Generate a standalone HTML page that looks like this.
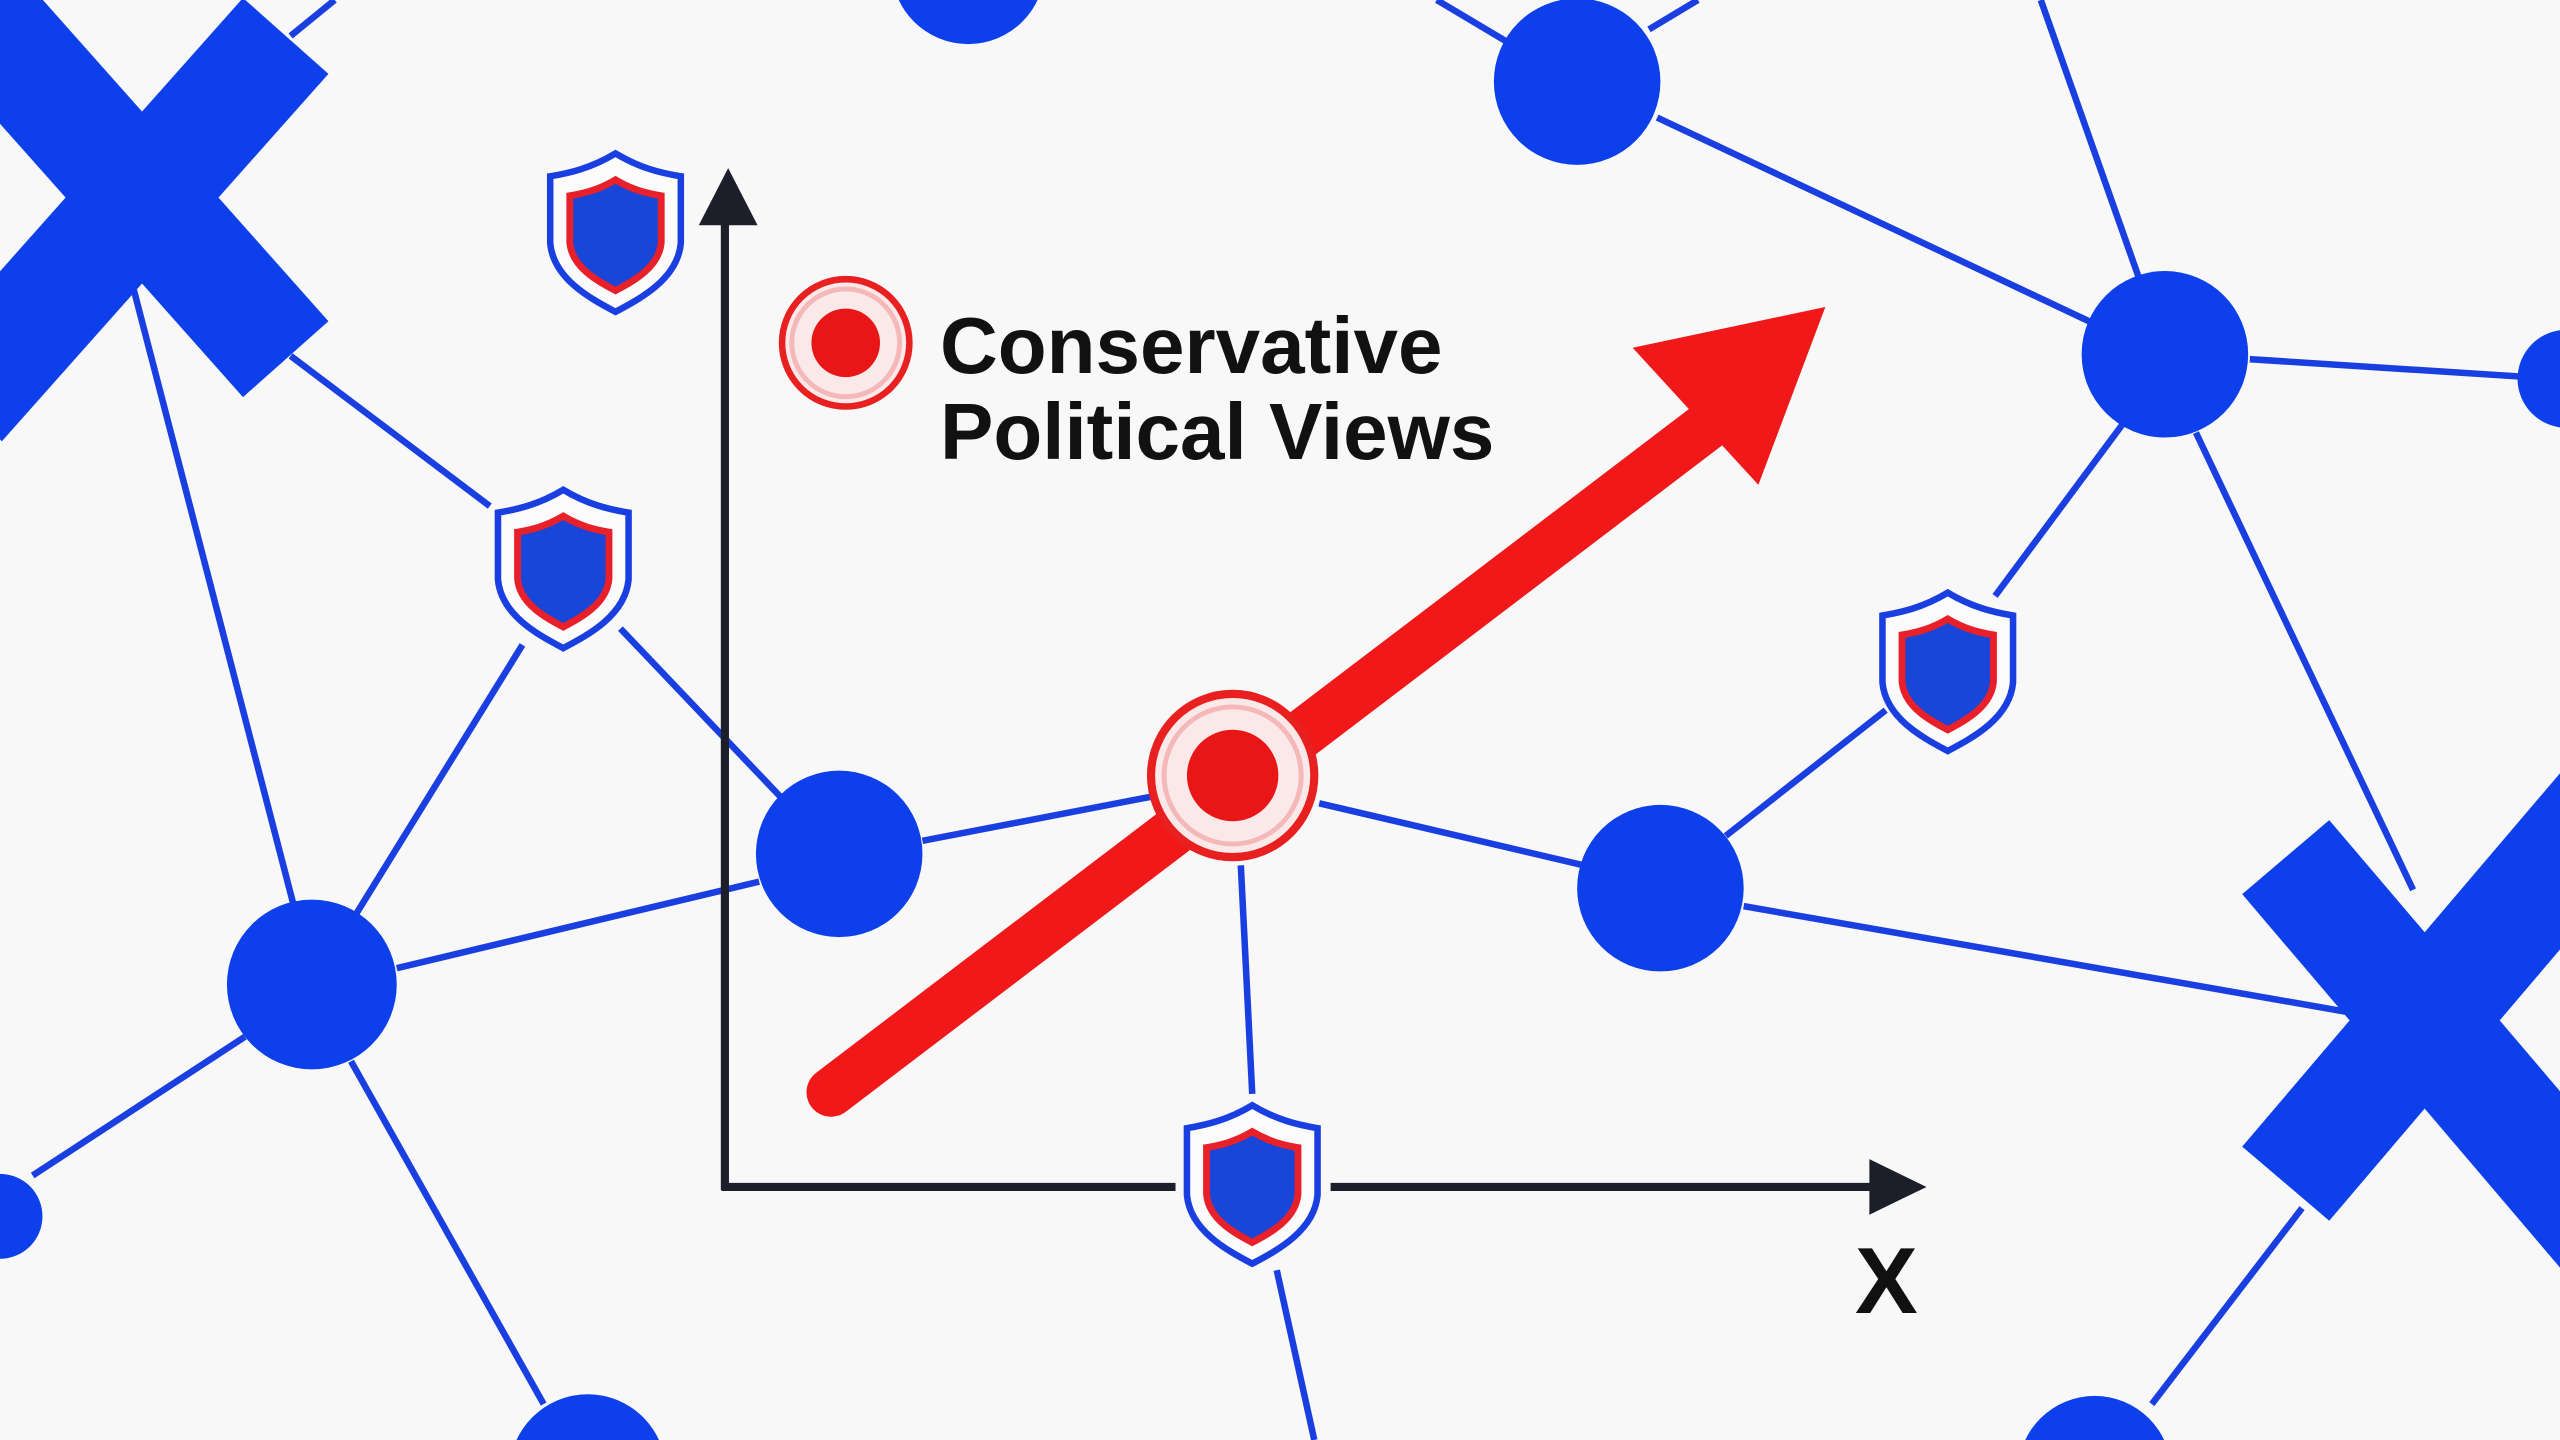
<!DOCTYPE html>
<html><head><meta charset="utf-8"><style>
html,body{margin:0;padding:0;background:#f8f8f8;width:2560px;height:1440px;overflow:hidden;position:relative;}
svg{display:block;position:absolute;left:0;top:0;}
.t{position:absolute;left:940px;font-family:"Liberation Sans",sans-serif;font-weight:bold;font-size:80px;line-height:80px;color:#111;white-space:nowrap;}
</style></head><body>
<svg width="2560" height="1440" viewBox="0 0 1568 882" xmlns="http://www.w3.org/2000/svg" overflow="hidden">
<defs>
<path id="sh" d="M0,-47 C15,-38 28,-35 40,-33 L40,8 C38,30 15,42 0,50 C-15,42 -38,30 -40,8 L-40,-33 C-28,-35 -15,-38 0,-47 Z"/>
<g id="shield">
<use href="#sh" fill="#fbfbfb" stroke="#1a3fe0" stroke-width="4"/>
<g transform="translate(0,2) scale(0.7)"><use href="#sh" fill="#1746d8" stroke="#e8202a" stroke-width="6"/></g>
</g>
</defs>
<rect width="1568" height="882" fill="#f8f8f8"/>
<g stroke="#1a3fe0" stroke-width="4" fill="none">
<line x1="178" y1="22" x2="205" y2="0"/>
<line x1="80" y1="170" x2="180" y2="555"/>
<line x1="178" y1="218" x2="300" y2="310"/>
<line x1="380" y1="385" x2="478" y2="488"/>
<line x1="320" y1="395" x2="218" y2="560"/>
<line x1="243" y1="593" x2="465" y2="540"/>
<line x1="565" y1="515" x2="705" y2="488"/>
<line x1="808" y1="492" x2="970" y2="530"/>
<line x1="760" y1="530" x2="767" y2="670"/>
<line x1="1068" y1="555" x2="1450" y2="622"/>
<line x1="1057" y1="512" x2="1155" y2="435"/>
<line x1="1222" y1="365" x2="1300" y2="260"/>
<line x1="1345" y1="265" x2="1478" y2="545"/>
<line x1="1378" y1="220" x2="1565" y2="232"/>
<line x1="1015" y1="72" x2="1280" y2="197"/>
<line x1="1250" y1="0" x2="1310" y2="170"/>
<line x1="880" y1="0" x2="922" y2="25"/>
<line x1="1010" y1="18" x2="1040" y2="0"/>
<line x1="150" y1="635" x2="20" y2="720"/>
<line x1="215" y1="650" x2="333" y2="860"/>
<line x1="782" y1="778" x2="805" y2="882"/>
<line x1="1410" y1="740" x2="1318" y2="860"/>
</g>
<g fill="#0d40ea">
<circle cx="593" cy="-20" r="47"/>
<circle cx="966" cy="50" r="51"/>
<circle cx="1326" cy="217" r="51"/>
<circle cx="1572" cy="232" r="30"/>
<circle cx="514" cy="523" r="51"/>
<circle cx="1017" cy="544" r="51"/>
<circle cx="191" cy="603" r="52"/>
<circle cx="0" cy="745" r="26"/>
<circle cx="360" cy="902" r="48"/>
<circle cx="1283" cy="902" r="47"/>
</g>
<g stroke="#0d40ea" stroke-width="70" stroke-linecap="butt">
<line x1="-25" y1="-5" x2="175" y2="220"/>
<line x1="175" y1="22" x2="-25" y2="247"/>
<line x1="1400" y1="525" x2="1600" y2="760"/>
<line x1="1400" y1="725" x2="1600" y2="490"/>
</g>
<use href="#shield" x="377" y="141"/>
<use href="#shield" x="345" y="347"/>
<use href="#shield" x="1193" y="410"/>
<use href="#shield" x="767" y="724"/>
<g stroke="#1c1f2a" stroke-width="5" fill="none">
<line x1="444" y1="132" x2="444" y2="729"/>
<line x1="442" y1="727" x2="720" y2="727"/>
<line x1="815" y1="727" x2="1150" y2="727"/>
</g>
<polygon points="446,103 428,138 464,138" fill="#1c1f2a"/>
<polygon points="1180,727 1145,710 1145,744" fill="#1c1f2a"/>
<line x1="509" y1="669" x2="1060" y2="250" stroke="#f01818" stroke-width="30" stroke-linecap="round"/>
<polygon points="1118,188 1000,213 1077,297" fill="#f01818"/>
<circle cx="518" cy="210" r="39" fill="#fbe8e8" stroke="#e82020" stroke-width="4"/>
<circle cx="518" cy="210" r="33" fill="none" stroke="#f4b8b8" stroke-width="3"/>
<circle cx="518" cy="210" r="21" fill="#e81616"/>
<circle cx="755" cy="475" r="50" fill="#fbe8e8" stroke="#e82020" stroke-width="5"/>
<circle cx="755" cy="475" r="42" fill="none" stroke="#f4b8b8" stroke-width="3"/>
<circle cx="755" cy="475" r="28" fill="#e81616"/>
</svg>
<div class="t" style="top:306px;">Conservative</div>
<div class="t" style="top:392px;">Political Views</div>
<div class="t" style="left:1855px;top:1234px;font-size:94px;line-height:94px;">X</div>
</body></html>
